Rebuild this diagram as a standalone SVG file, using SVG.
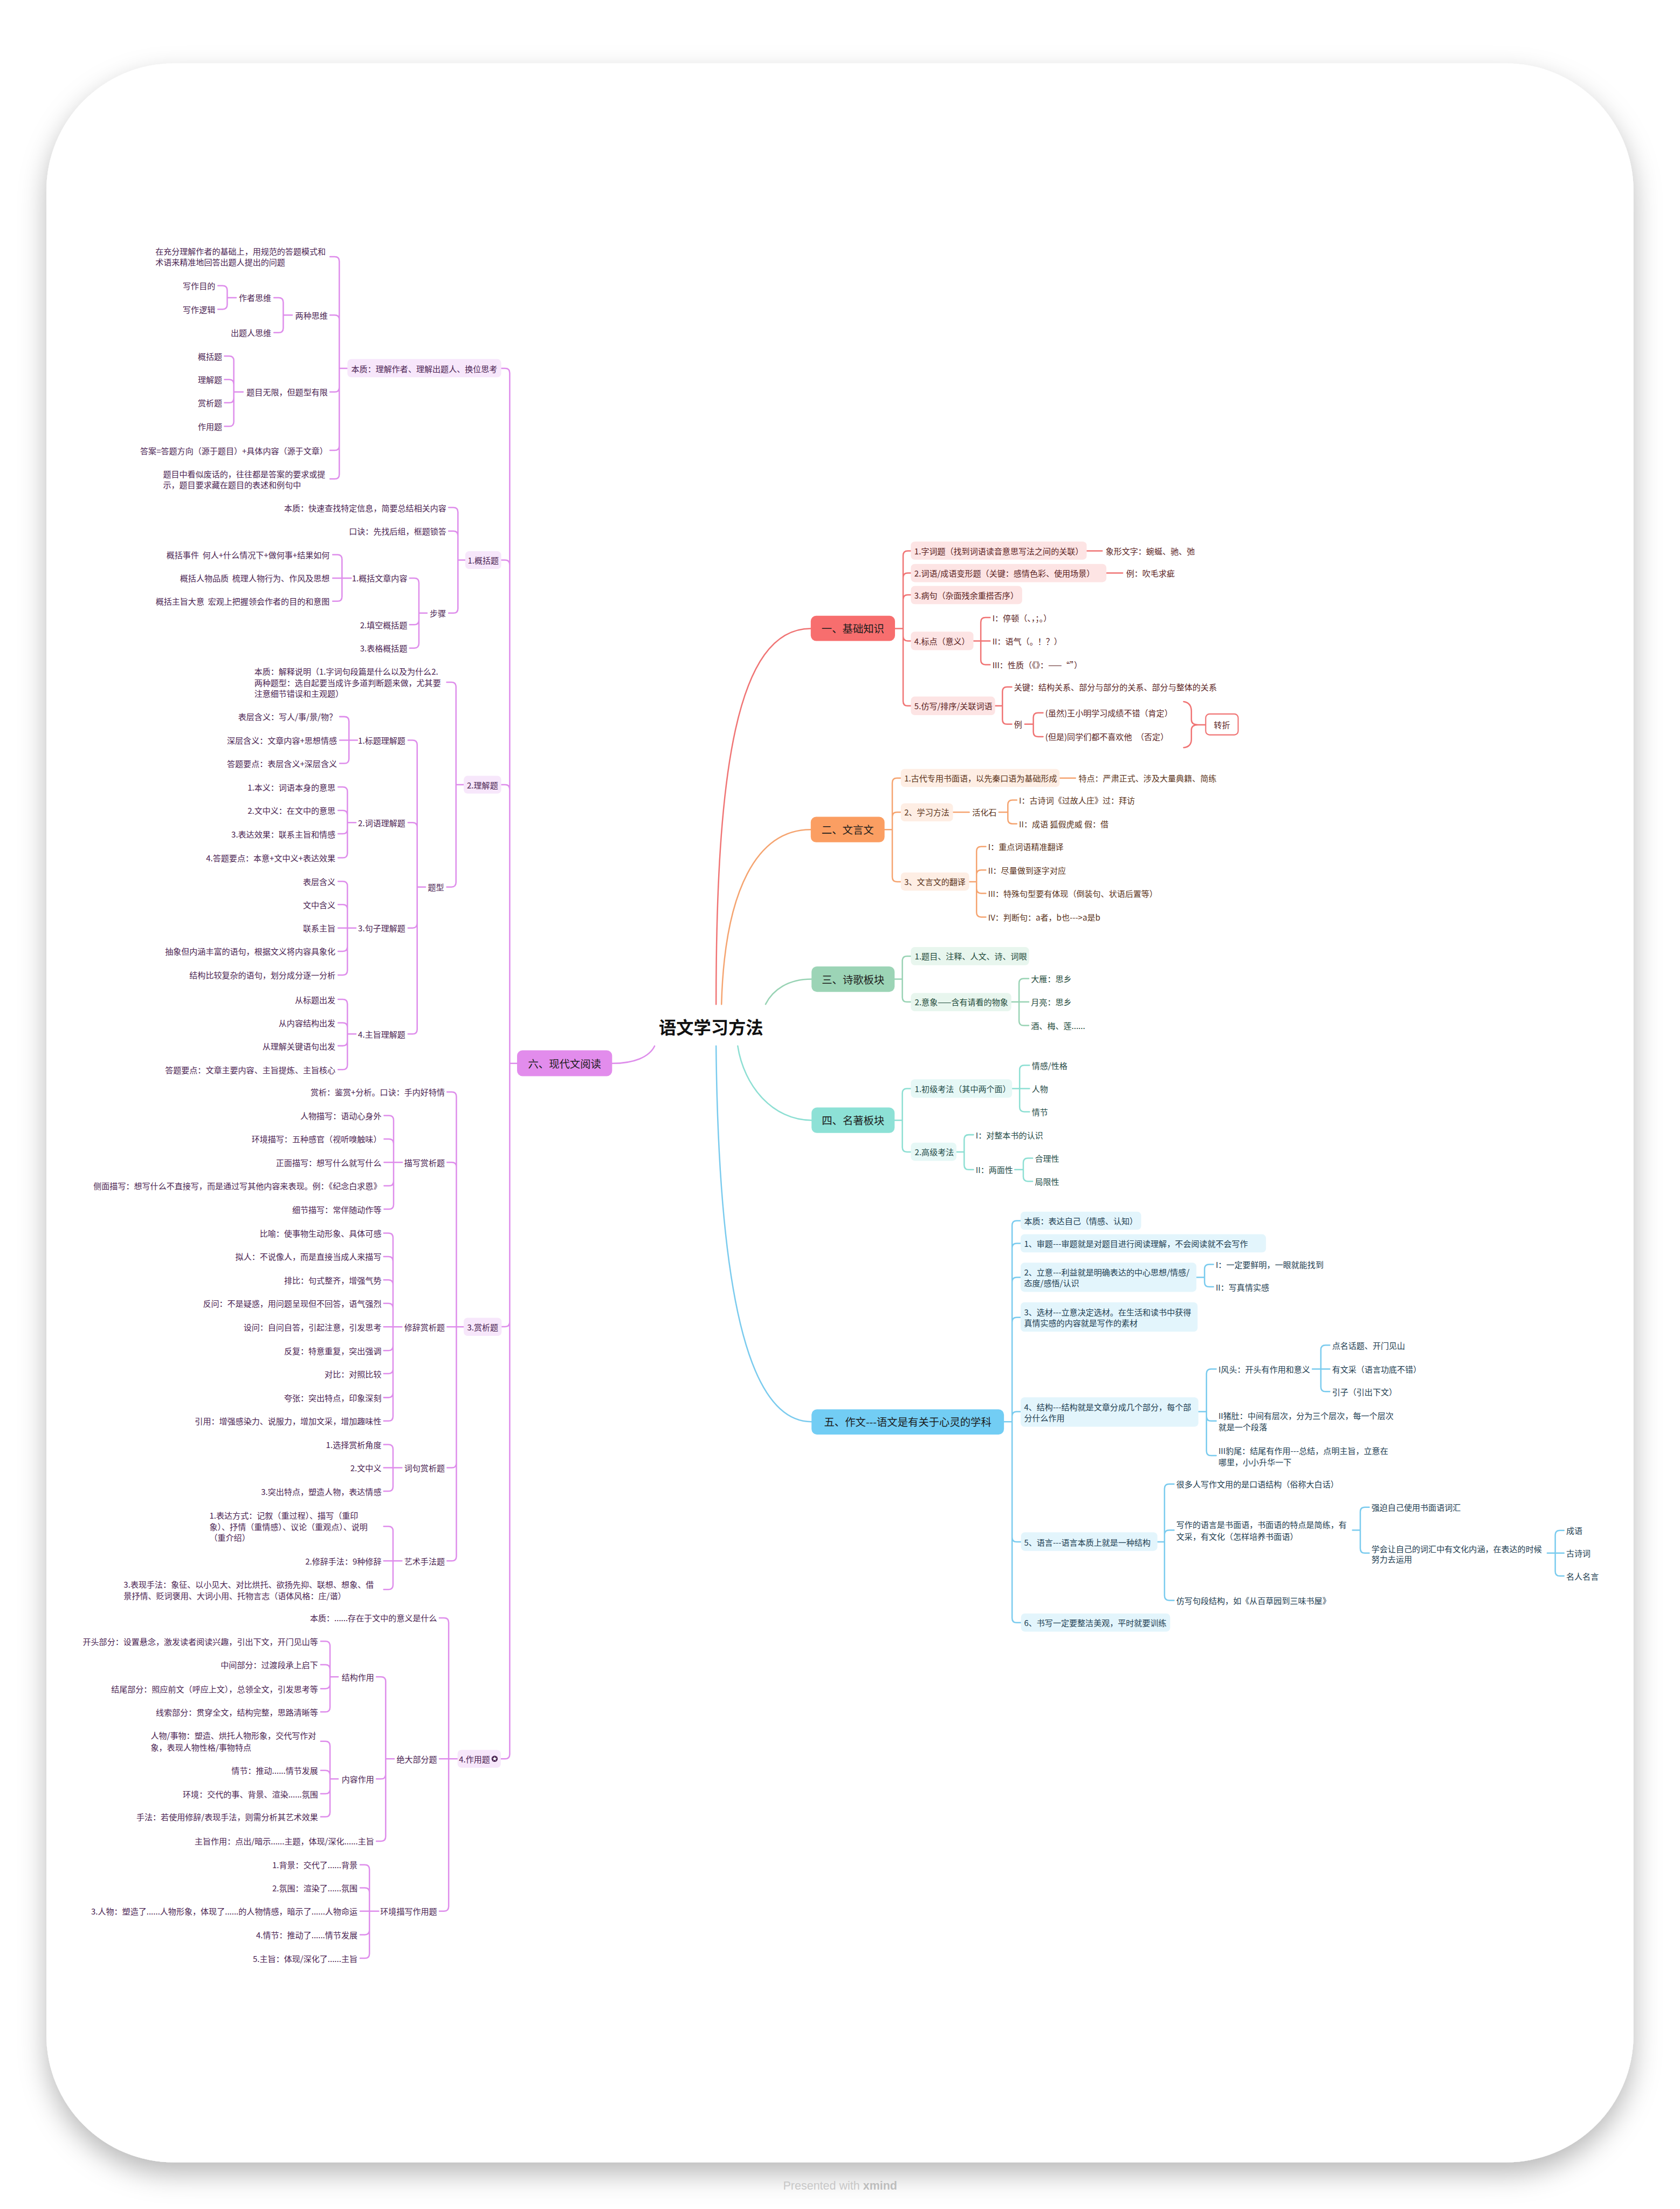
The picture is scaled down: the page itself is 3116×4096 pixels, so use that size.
<svg xmlns="http://www.w3.org/2000/svg" width="3116" height="4096" viewBox="0 0 3116 4096">
<defs>
<style>
text{font-family:"Noto Sans CJK SC","Noto Sans",sans-serif;font-size:21px;dominant-baseline:central}
.e{text-anchor:end}.m{text-anchor:middle}
.c6{fill:#4A2352}.c1{fill:#5A2222}.c2{fill:#5A3219}.c3{fill:#1F4A3A}.c4{fill:#1F4A46}.c5{fill:#1C3C50}
.br{font-size:27px;fill:#1C1C1C;text-anchor:middle}
.ln{fill:none;stroke-width:3.5;stroke-linecap:round;stroke-linejoin:round}
.l6{stroke:#DE8DEB}.l1{stroke:#F07474}.l2{stroke:#F5A470}.l3{stroke:#98D3B4}.l4{stroke:#8DDFD3}.l5{stroke:#7ACBEE}
.f6{fill:#F7E7FB}.f1{fill:#FDE4E4}.f2{fill:#FEEEE4}.f3{fill:#E8F6EE}.f4{fill:#E6F8F6}.f5{fill:#E3F5FC}
</style>
<filter id="sh" x="-10%" y="-10%" width="120%" height="120%">
<feDropShadow dx="0" dy="30" stdDeviation="35" flood-color="#000" flood-opacity="0.28"/>
</filter>
</defs>
<rect width="3116" height="4096" fill="#fff"/>
<g transform="scale(0.71676)">
<rect x="120" y="164" width="4107" height="5430" rx="330" fill="#fff" filter="url(#sh)"/>
<text x="2174" y="5655" class="m" style="font-family:'Liberation Sans',sans-serif;font-size:30px;fill:#C8C8C8">Presented with <tspan style="font-weight:bold;fill:#BDBDBD">xmind</tspan></text>

<g id="connectors">
<!-- main curves -->
<path class="ln l1" stroke-width="4" d="M1853 2598C1853 2000 1905 1626 2098 1626"/>
<path class="ln l2" stroke-width="4" d="M1867 2598C1875 2300 1960 2146 2098 2146"/>
<path class="ln l3" stroke-width="4" d="M1981 2598C2000 2560 2040 2533 2100 2533"/>
<path class="ln l4" stroke-width="4" d="M1909 2706C1925 2810 2000 2898 2100 2898"/>
<path class="ln l5" stroke-width="4" d="M1853 2706C1860 3400 1950 3678 2100 3678"/>
<path class="ln l6" stroke-width="4" d="M1694 2706C1680 2735 1640 2751 1584 2751"/>
<!-- 六 -->
<path class="ln l6" d="M1338 2751H1319V965Q1319 953 1307 953H1297M1338 2751H1319V1461Q1319 1449 1307 1449H1297M1338 2751H1319V2042Q1319 2030 1307 2030H1297M1338 2751H1319V3420Q1319 3432 1307 3432H1298M1338 2751H1319V4538Q1319 4550 1307 4550H1296"/>
<path class="ln l6" d="M899 953H878V676Q878 664 866 664H854M899 953H878V827Q878 815 866 815H854M899 953H878V1002Q878 1014 866 1014H854M899 953H878V1153Q878 1165 866 1165H854M899 953H878V1227Q878 1239 866 1239H854"/>
<path class="ln l6" d="M756 815H733V782Q733 770 721 770H709M756 815H733V848.5Q733 860.5 721 860.5H709"/>
<path class="ln l6" d="M611 770H588V751Q588 739 576 739H564M611 770H588V788Q588 800 576 800H564"/>
<path class="ln l6" d="M629 1014H605V933Q605 921 593 921H581M629 1014H605V994Q605 982 593 982H581M629 1014H605V1030Q605 1042 593 1042H581M629 1014H605V1091Q605 1103 593 1103H581"/>
<path class="ln l6" d="M1204 1449H1185V1325Q1185 1313 1173 1313H1161M1204 1449H1185V1386Q1185 1374 1173 1374H1161M1204 1449H1185V1574Q1185 1586 1173 1586H1161"/>
<path class="ln l6" d="M1105 1586H1084V1507.5Q1084 1495.5 1072 1495.5H1060M1105 1586H1084V1604Q1084 1616 1072 1616H1060M1105 1586H1084V1664.6Q1084 1676.6 1072 1676.6H1060"/>
<path class="ln l6" d="M909 1495.5H885V1447Q885 1435 873 1435H861M909 1495.5H861M909 1495.5H885V1543.4Q885 1555.4 873 1555.4H861"/>
<path class="ln l6" d="M1200 2030H1180V1777Q1180 1765 1168 1765H1156M1200 2030H1180V2282.6Q1180 2294.6 1168 2294.6H1156"/>
<path class="ln l6" d="M1101 2294.6H1079.5V1926.7Q1079.5 1914.7 1067.5 1914.7H1056M1101 2294.6H1079.5V2140Q1079.5 2128 1067.5 2128H1056M1101 2294.6H1079.5V2388.6Q1079.5 2400.6 1067.5 2400.6H1056M1101 2294.6H1079.5V2663Q1079.5 2675 1067.5 2675H1056"/>
<path class="ln l6" d="M925 1914.7H903V1866Q903 1854 891 1854H879M925 1914.7H879M925 1914.7H903V1963Q903 1975 891 1975H879"/>
<path class="ln l6" d="M921 2128H899V2048Q899 2036 887 2036H875M921 2128H899V2108.5Q899 2096.5 887 2096.5H875M921 2128H899V2145Q899 2157 887 2157H875M921 2128H899V2207Q899 2219 887 2219H875"/>
<path class="ln l6" d="M921 2400.6H899V2292Q899 2280 887 2280H875M921 2400.6H899V2352Q899 2340 887 2340H875M921 2400.6H875M921 2400.6H899V2449Q899 2461 887 2461H875M921 2400.6H899V2510.4Q899 2522.4 887 2522.4H875"/>
<path class="ln l6" d="M921 2675H899V2597.4Q899 2585.4 887 2585.4H875M921 2675H899V2658Q899 2646 887 2646H875M921 2675H899V2693.4Q899 2705.4 887 2705.4H875M921 2675H899V2755Q899 2767 887 2767H875"/>
<path class="ln l6" d="M1200 3432.4H1181V2836.7Q1181 2824.7 1169 2824.7H1157M1200 3432.4H1181V3019Q1181 3007 1169 3007H1157M1200 3432.4H1157M1200 3432.4H1181V3785Q1181 3797 1169 3797H1157M1200 3432.4H1181V4026Q1181 4038 1169 4038H1157"/>
<path class="ln l6" d="M1041 3007H1018.5V2898Q1018.5 2886 1006.5 2886H994M1041 3007H1018.5V2958.5Q1018.5 2946.5 1006.5 2946.5H994M1041 3007H994M1041 3007H1018.5V3055.7Q1018.5 3067.7 1006.5 3067.7H994M1041 3007H1018.5V3116Q1018.5 3128 1006.5 3128H994"/>
<path class="ln l6" d="M1040 3432.4H1017V3202Q1017 3190 1005 3190H993M1040 3432.4H1017V3262.7Q1017 3250.7 1005 3250.7H993M1040 3432.4H1017V3323Q1017 3311 1005 3311H993M1040 3432.4H1017V3383.8Q1017 3371.8 1005 3371.8H993M1040 3432.4H993M1040 3432.4H1017V3482Q1017 3494 1005 3494H993M1040 3432.4H1017V3541.6Q1017 3553.6 1005 3553.6H993M1040 3432.4H1017V3603.4Q1017 3615.4 1005 3615.4H993M1040 3432.4H1017V3664Q1017 3676 1005 3676H993"/>
<path class="ln l6" d="M1040 3797H1017V3749Q1017 3737 1005 3737H993M1040 3797H993M1040 3797H1017V3845.7Q1017 3857.7 1005 3857.7H993"/>
<path class="ln l6" d="M1040 4038H1017V3960.6Q1017 3948.6 1005 3948.6H993M1040 4038H993M1040 4038H1017V4100Q1017 4112 1005 4112H993"/>
<path class="ln l6" d="M1184 4550H1161V4197.5Q1161 4185.5 1149 4185.5H1137M1184 4550H1137M1184 4550H1161V4932Q1161 4944 1149 4944H1137"/>
<path class="ln l6" d="M1020 4550H998V4350Q998 4338 986 4338H974M1020 4550H998V4590Q998 4602 986 4602H974M1020 4550H998V4751Q998 4763 986 4763H974"/>
<path class="ln l6" d="M875 4338H854V4258Q854 4246 842 4246H830M875 4338H854V4318.7Q854 4306.7 842 4306.7H830M875 4338H854V4356.5Q854 4368.5 842 4368.5H830M875 4338H854V4416.7Q854 4428.7 842 4428.7H830"/>
<path class="ln l6" d="M875 4602H854V4516.7Q854 4504.7 842 4504.7H830M875 4602H854V4592Q854 4580 842 4580H830M875 4602H854V4628.4Q854 4640.4 842 4640.4H830M875 4602H854V4688Q854 4700 842 4700H830"/>
<path class="ln l6" d="M980 4944H956V4836Q956 4824 944 4824H932M980 4944H956V4895.8Q956 4883.8 944 4883.8H932M980 4944H932M980 4944H956V4993Q956 5005 944 5005H932M980 4944H956V5054Q956 5066 944 5066H932"/>
<!-- 一 -->
<path class="ln l1" d="M2316 1626H2337V1437Q2337 1425 2349 1425H2357M2316 1626H2337V1494.5Q2337 1482.5 2349 1482.5H2357M2316 1626H2337V1551Q2337 1539 2349 1539H2357M2316 1626H2337V1646Q2337 1658 2349 1658H2357M2316 1626H2337V1814Q2337 1826 2349 1826H2357"/>
<path class="ln l1" d="M2812 1425H2852M2863 1482.5H2905"/>
<path class="ln l1" d="M2519 1658H2538V1609.6Q2538 1597.6 2550 1597.6H2562M2519 1658H2562M2519 1658H2538V1707.5Q2538 1719.5 2550 1719.5H2562"/>
<path class="ln l1" d="M2575 1826H2594V1789Q2594 1777 2606 1777H2618M2575 1826H2594V1861.5Q2594 1873.5 2606 1873.5H2618"/>
<path class="ln l1" d="M2652 1873.5H2674V1856Q2674 1844 2686 1844H2699M2652 1873.5H2674V1893.7Q2674 1905.7 2686 1905.7H2699"/>
<path class="ln l1" d="M3063 1815Q3083 1818 3083 1840V1862Q3083 1875 3100 1875Q3083 1875 3083 1888V1912Q3083 1932 3063 1934M3100 1875H3120"/>
<!-- 二 -->
<path class="ln l2" d="M2289 2146H2309V2025Q2309 2013 2321 2013H2331M2289 2146H2309V2113Q2309 2101 2321 2101H2331M2289 2146H2309V2269Q2309 2281 2321 2281H2331"/>
<path class="ln l2" d="M2742 2013H2783M2466 2101H2508"/>
<path class="ln l2" d="M2585 2101H2608V2081.7Q2608 2069.7 2620 2069.7H2631M2585 2101H2608V2119Q2608 2131 2620 2131H2631"/>
<path class="ln l2" d="M2508 2281H2527V2202Q2527 2190 2539 2190H2551M2508 2281H2527V2262.6Q2527 2250.6 2539 2250.6H2551M2508 2281H2527V2299Q2527 2311 2539 2311H2551M2508 2281H2527V2360.4Q2527 2372.4 2539 2372.4H2551"/>
<!-- 三 -->
<path class="ln l3" d="M2315 2533H2335V2485.6Q2335 2473.6 2347 2473.6H2357M2315 2533H2335V2580Q2335 2592 2347 2592H2357"/>
<path class="ln l3" d="M2617 2592H2637V2543.6Q2637 2531.6 2649 2531.6H2662M2617 2592H2662M2617 2592H2637V2641Q2637 2653 2649 2653H2662"/>
<!-- 四 -->
<path class="ln l4" d="M2315 2898H2335V2828Q2335 2816 2347 2816H2357M2315 2898H2335V2968Q2335 2980 2347 2980H2357"/>
<path class="ln l4" d="M2619 2816H2638.5V2767.7Q2638.5 2755.7 2650.5 2755.7H2664M2619 2816H2664M2619 2816H2638.5V2864Q2638.5 2876 2650.5 2876H2664"/>
<path class="ln l4" d="M2475 2980H2495V2947.6Q2495 2935.6 2507 2935.6H2519M2475 2980H2495V3013.8Q2495 3025.8 2507 3025.8H2519"/>
<path class="ln l4" d="M2626 3025.8H2648V3008Q2648 2996 2660 2996H2672M2626 3025.8H2648V3044Q2648 3056 2660 3056H2672"/>
<!-- 五 -->
<path class="ln l5" d="M2598 3678H2619V3170Q2619 3158 2631 3158H2641M2598 3678H2619V3228.4Q2619 3216.4 2631 3216.4H2641M2598 3678H2619V3316.4Q2619 3304.4 2631 3304.4H2641M2598 3678H2619V3420Q2619 3408 2631 3408H2641M2598 3678H2619V3664Q2619 3652 2631 3652H2641M2598 3678H2619V3976.8Q2619 3988.8 2631 3988.8H2641M2598 3678H2619V4185.7Q2619 4197.7 2631 4197.7H2641"/>
<path class="ln l5" d="M3096 3304.4H3117V3283Q3117 3271 3129 3271H3140M3096 3304.4H3117V3317Q3117 3329 3129 3329H3140"/>
<path class="ln l5" d="M3101 3652H3122V3553.7Q3122 3541.7 3134 3541.7H3147M3101 3652H3122V3664Q3122 3676 3134 3676H3147M3101 3652H3122V3753.7Q3122 3765.7 3134 3765.7H3147"/>
<path class="ln l5" d="M3396 3541.7H3418V3492Q3418 3480 3430 3480H3441M3396 3541.7H3441M3396 3541.7H3418V3588Q3418 3600 3430 3600H3441"/>
<path class="ln l5" d="M2995 3988.8H3013.4V3851Q3013.4 3839 3025.4 3839H3038M2995 3988.8H3013.4V3970.4Q3013.4 3958.4 3025.4 3958.4H3038M2995 3988.8H3013.4V4128Q3013.4 4140 3025.4 4140H3038"/>
<path class="ln l5" d="M3500 3958.4H3520V3911Q3520 3899 3532 3899H3543M3500 3958.4H3520V4005.8Q3520 4017.8 3532 4017.8H3543"/>
<path class="ln l5" d="M4004 4017.8H4024.5V3971Q4024.5 3959 4036.5 3959H4047M4004 4017.8H4047M4004 4017.8H4024.5V4065Q4024.5 4077 4036.5 4077H4047"/>
</g>

<g id="title"><text x="1840" y="2655" class="m" style="font-size:45px;font-weight:bold;fill:#111">语文学习方法</text></g>

<!-- Branch nodes -->
<g id="b1"><rect x="2098" y="1593" width="218" height="65" rx="14" fill="#F76E6E"/><text x="2207" y="1626" class="br">一、基础知识</text></g>
<g id="b2"><rect x="2098" y="2113" width="191" height="66" rx="14" fill="#FB9E62"/><text x="2193.5" y="2146" class="br">二、文言文</text></g>
<g id="b3"><rect x="2100" y="2500" width="215" height="66" rx="14" fill="#9CD4B6"/><text x="2207.5" y="2533" class="br">三、诗歌板块</text></g>
<g id="b4"><rect x="2100" y="2865" width="215" height="66" rx="14" fill="#8DE1D6"/><text x="2207.5" y="2898" class="br">四、名著板块</text></g>
<g id="b5"><rect x="2100" y="3646" width="498" height="65" rx="14" fill="#72CDF4"/><text x="2349" y="3678" class="br">五、作文---语文是有关于心灵的学科</text></g>
<g id="b6"><rect x="1338" y="2717" width="246" height="67" rx="14" fill="#E28CEC"/><text x="1461" y="2751" class="br">六、现代文阅读</text></g>

<!-- 六 nodes -->
<g id="n6a"><rect x="899" y="929" width="398" height="47" rx="10" class="f6"/><text x="1098" y="953" class="m c6">本质：理解作者、理解出题人、换位思考</text></g>
<g id="n6a1"><text x="402" y="650" class="c6">在充分理解作者的基础上，用规范的答题模式和</text><text x="402" y="678" class="c6">术语来精准地回答出题人提出的问题</text></g>
<g id="n6a2"><text x="848" y="815" class="e c6">两种思维</text></g>
<g id="n6a21"><text x="702" y="770" class="e c6">作者思维</text></g>
<g id="n6a211"><text x="557" y="739" class="e c6">写作目的</text></g>
<g id="n6a212"><text x="557" y="800" class="e c6">写作逻辑</text></g>
<g id="n6a22"><text x="702" y="860.5" class="e c6">出题人思维</text></g>
<g id="n6a3"><text x="848" y="1014" class="e c6">题目无限，但题型有限</text></g>
<g id="n6a31"><text x="575" y="921" class="e c6">概括题</text></g>
<g id="n6a32"><text x="575" y="982" class="e c6">理解题</text></g>
<g id="n6a33"><text x="575" y="1042" class="e c6">赏析题</text></g>
<g id="n6a34"><text x="575" y="1103" class="e c6">作用题</text></g>
<g id="n6a4"><text x="848" y="1165" class="e c6">答案=答题方向（源于题目）+具体内容（源于文章）</text></g>
<g id="n6a5"><text x="422" y="1226" class="c6">题目中看似废话的，往往都是答案的要求或提</text><text x="422" y="1254" class="c6">示，题目要求藏在题目的表述和例句中</text></g>

<g id="n6b"><rect x="1204" y="1426" width="93" height="46" rx="10" class="f6"/><text x="1250.5" y="1449" class="m c6">1.概括题</text></g>
<g id="n6b1"><text x="1155" y="1313" class="e c6">本质：快速查找特定信息，简要总结相关内容</text></g>
<g id="n6b2"><text x="1155" y="1374" class="e c6">口诀：先找后组，框题锁答</text></g>
<g id="n6b3"><text x="1154" y="1586" class="e c6">步骤</text></g>
<g id="n6b31"><text x="1054" y="1495.5" class="e c6">1.概括文章内容</text></g>
<g id="n6b311"><text x="853" y="1435" class="e c6">概括事件&#160;&#160;何人+什么情况下+做何事+结果如何</text></g>
<g id="n6b312"><text x="853" y="1495.5" class="e c6">概括人物品质&#160;&#160;梳理人物行为、作风及思想</text></g>
<g id="n6b313"><text x="853" y="1555.4" class="e c6">概括主旨大意&#160;&#160;宏观上把握领会作者的目的和意图</text></g>
<g id="n6b32"><text x="1054" y="1616" class="e c6">2.填空概括题</text></g>
<g id="n6b33"><text x="1054" y="1676.6" class="e c6">3.表格概括题</text></g>

<g id="n6c"><rect x="1200" y="2007" width="97" height="46" rx="10" class="f6"/><text x="1248.5" y="2030" class="m c6">2.理解题</text></g>
<g id="n6c1"><text x="658" y="1736" class="c6">本质：解释说明（1.字词句段篇是什么以及为什么2.</text><text x="658" y="1765" class="c6">两种题型：选自起要当成许多道判断题来做，尤其要</text><text x="658" y="1794" class="c6">注意细节错误和主观题）</text></g>
<g id="n6c2"><text x="1149" y="2294.6" class="e c6">题型</text></g>
<g id="n6c21"><text x="1049" y="1914.7" class="e c6">1.标题理解题</text></g>
<g id="n6c211"><text x="872" y="1854" class="e c6">表层含义：写人/事/景/物？</text></g>
<g id="n6c212"><text x="872" y="1914.7" class="e c6">深层含义：文章内容+思想情感</text></g>
<g id="n6c213"><text x="872" y="1975" class="e c6">答题要点：表层含义+深层含义</text></g>
<g id="n6c22"><text x="1049" y="2128" class="e c6">2.词语理解题</text></g>
<g id="n6c221"><text x="868" y="2036" class="e c6">1.本义：词语本身的意思</text></g>
<g id="n6c222"><text x="868" y="2096.5" class="e c6">2.文中义：在文中的意思</text></g>
<g id="n6c223"><text x="868" y="2157" class="e c6">3.表达效果：联系主旨和情感</text></g>
<g id="n6c224"><text x="868" y="2219" class="e c6">4.答题要点：本意+文中义+表达效果</text></g>
<g id="n6c23"><text x="1049" y="2400.6" class="e c6">3.句子理解题</text></g>
<g id="n6c231"><text x="868" y="2280" class="e c6">表层含义</text></g>
<g id="n6c232"><text x="868" y="2340" class="e c6">文中含义</text></g>
<g id="n6c233"><text x="868" y="2400.6" class="e c6">联系主旨</text></g>
<g id="n6c234"><text x="868" y="2461" class="e c6">抽象但内涵丰富的语句，根据文义将内容具象化</text></g>
<g id="n6c235"><text x="868" y="2522.4" class="e c6">结构比较复杂的语句，划分成分逐一分析</text></g>
<g id="n6c24"><text x="1049" y="2675" class="e c6">4.主旨理解题</text></g>
<g id="n6c241"><text x="868" y="2585.4" class="e c6">从标题出发</text></g>
<g id="n6c242"><text x="868" y="2646" class="e c6">从内容结构出发</text></g>
<g id="n6c243"><text x="868" y="2705.4" class="e c6">从理解关键语句出发</text></g>
<g id="n6c244"><text x="868" y="2767" class="e c6">答题要点：文章主要内容、主旨提炼、主旨核心</text></g>

<g id="n6d"><rect x="1200" y="3409" width="98" height="47" rx="10" class="f6"/><text x="1249" y="3432.4" class="m c6">3.赏析题</text></g>
<g id="n6d1"><text x="1151" y="2824.7" class="e c6">赏析：鉴赏+分析。口诀：手内好特情</text></g>
<g id="n6d2"><text x="1151" y="3007" class="e c6">描写赏析题</text></g>
<g id="n6d21"><text x="987" y="2886" class="e c6">人物描写：语动心身外</text></g>
<g id="n6d22"><text x="987" y="2946.5" class="e c6">环境描写：五种感官（视听嗅触味）</text></g>
<g id="n6d23"><text x="987" y="3007" class="e c6">正面描写：想写什么就写什么</text></g>
<g id="n6d24"><text x="987" y="3067.7" class="e c6">侧面描写：想写什么不直接写，而是通过写其他内容来表现。例：《纪念白求恩》</text></g>
<g id="n6d25"><text x="987" y="3128" class="e c6">细节描写：常伴随动作等</text></g>
<g id="n6d3"><text x="1151" y="3432.4" class="e c6">修辞赏析题</text></g>
<g id="n6d31"><text x="987" y="3190" class="e c6">比喻：使事物生动形象、具体可感</text></g>
<g id="n6d32"><text x="987" y="3250.7" class="e c6">拟人：不说像人，而是直接当成人来描写</text></g>
<g id="n6d33"><text x="987" y="3311" class="e c6">排比：句式整齐，增强气势</text></g>
<g id="n6d34"><text x="987" y="3371.8" class="e c6">反问：不是疑惑，用问题呈现但不回答，语气强烈</text></g>
<g id="n6d35"><text x="987" y="3432.4" class="e c6">设问：自问自答，引起注意，引发思考</text></g>
<g id="n6d36"><text x="987" y="3494" class="e c6">反复：特意重复，突出强调</text></g>
<g id="n6d37"><text x="987" y="3553.6" class="e c6">对比：对照比较</text></g>
<g id="n6d38"><text x="987" y="3615.4" class="e c6">夸张：突出特点，印象深刻</text></g>
<g id="n6d39"><text x="987" y="3676" class="e c6">引用：增强感染力、说服力，增加文采，增加趣味性</text></g>
<g id="n6d4"><text x="1151" y="3797" class="e c6">词句赏析题</text></g>
<g id="n6d41"><text x="987" y="3737" class="e c6">1.选择赏析角度</text></g>
<g id="n6d42"><text x="987" y="3797" class="e c6">2.文中义</text></g>
<g id="n6d43"><text x="987" y="3857.7" class="e c6">3.突出特点，塑造人物，表达情感</text></g>
<g id="n6d5"><text x="1151" y="4038" class="e c6">艺术手法题</text></g>
<g id="n6d51"><text x="542" y="3920" class="c6">1.表达方式：记叙（重过程）、描写（重印</text><text x="542" y="3948.6" class="c6">象）、抒情（重情感）、议论（重观点）、说明</text><text x="542" y="3976.5" class="c6">（重介绍）</text></g>
<g id="n6d52"><text x="987" y="4038" class="e c6">2.修辞手法：9种修辞</text></g>
<g id="n6d53"><text x="320" y="4099" class="c6">3.表现手法：象征、以小见大、对比烘托、欲扬先抑、联想、想象、借</text><text x="320" y="4127" class="c6">景抒情、贬词褒用、大词小用、托物言志（语体风格：庄/谐）</text></g>

<g id="n6e"><rect x="1184" y="4527" width="112" height="46" rx="10" class="f6"/><text x="1268" y="4550" class="e c6">4.作用题</text><circle cx="1280" cy="4550" r="8" fill="#4A2352"/><polygon points="1280,4544 1281.6,4548 1285.7,4548.2 1282.5,4550.8 1283.6,4554.8 1280,4552.5 1276.4,4554.8 1277.5,4550.8 1274.3,4548.2 1278.4,4548" fill="#fff"/></g>
<g id="n6e1"><text x="1131" y="4185.5" class="e c6">本质：......存在于文中的意义是什么</text></g>
<g id="n6e2"><text x="1131" y="4550" class="e c6">绝大部分题</text></g>
<g id="n6e21"><text x="968" y="4338" class="e c6">结构作用</text></g>
<g id="n6e211"><text x="823" y="4246" class="e c6">开头部分：设置悬念，激发读者阅读兴趣，引出下文，开门见山等</text></g>
<g id="n6e212"><text x="823" y="4306.7" class="e c6">中间部分：过渡段承上启下</text></g>
<g id="n6e213"><text x="823" y="4368.5" class="e c6">结尾部分：照应前文（呼应上文），总领全文，引发思考等</text></g>
<g id="n6e214"><text x="823" y="4428.7" class="e c6">线索部分：贯穿全文，结构完整，思路清晰等</text></g>
<g id="n6e22"><text x="968" y="4602" class="e c6">内容作用</text></g>
<g id="n6e221"><text x="390" y="4489" class="c6">人物/事物：塑造、烘托人物形象，交代写作对</text><text x="390" y="4519" class="c6">象，表现人物性格/事物特点</text></g>
<g id="n6e222"><text x="823" y="4580" class="e c6">情节：推动......情节发展</text></g>
<g id="n6e223"><text x="823" y="4640.4" class="e c6">环境：交代的事、背景、渲染......氛围</text></g>
<g id="n6e224"><text x="823" y="4700" class="e c6">手法：若使用修辞/表现手法，则需分析其艺术效果</text></g>
<g id="n6e23"><text x="968" y="4763" class="e c6">主旨作用：点出/暗示......主题，体现/深化......主旨</text></g>
<g id="n6e3"><text x="1131" y="4944" class="e c6">环境描写作用题</text></g>
<g id="n6e31"><text x="925" y="4824" class="e c6">1.背景：交代了......背景</text></g>
<g id="n6e32"><text x="925" y="4883.8" class="e c6">2.氛围：渲染了......氛围</text></g>
<g id="n6e33"><text x="925" y="4944" class="e c6">3.人物：塑造了......人物形象，体现了......的人物情感，暗示了......人物命运</text></g>
<g id="n6e34"><text x="925" y="5005" class="e c6">4.情节：推动了......情节发展</text></g>
<g id="n6e35"><text x="925" y="5066" class="e c6">5.主旨：体现/深化了......主旨</text></g>

<!-- 一 nodes -->
<g id="n1a"><rect x="2357" y="1401" width="455" height="47" rx="10" class="f1"/><text x="2366" y="1425" class="c1">1.字词题（找到词语读音意思写法之间的关联）</text></g>
<g id="n1a1"><text x="2861" y="1425" class="c1">象形文字：蜿蜒、驰、弛</text></g>
<g id="n1b"><rect x="2357" y="1459" width="506" height="47" rx="10" class="f1"/><text x="2366" y="1482.5" class="c1">2.词语/成语变形题（关键：感情色彩、使用场景）</text></g>
<g id="n1b1"><text x="2914" y="1482.5" class="c1">例：吹毛求疵</text></g>
<g id="n1c"><rect x="2357" y="1516" width="288" height="47" rx="10" class="f1"/><text x="2366" y="1539" class="c1">3.病句（杂面残余重搭否序）</text></g>
<g id="n1d"><rect x="2357" y="1634" width="162" height="48" rx="10" class="f1"/><text x="2366" y="1658" class="c1">4.标点（意义）</text></g>
<g id="n1d1"><text x="2568" y="1597.6" class="c1">I：停顿（、，；。）</text></g>
<g id="n1d2"><text x="2568" y="1658" class="c1">II：语气（。！？）</text></g>
<g id="n1d3"><text x="2568" y="1719.5" class="c1">III：性质（《》：——“”）</text></g>
<g id="n1e"><rect x="2357" y="1802" width="218" height="48" rx="10" class="f1"/><text x="2366" y="1826" class="c1">5.仿写/排序/关联词语</text></g>
<g id="n1e1"><text x="2624" y="1777" class="c1">关键：结构关系、部分与部分的关系、部分与整体的关系</text></g>
<g id="n1e2"><text x="2624" y="1873.5" class="c1">例</text></g>
<g id="n1e21"><text x="2705" y="1844" class="c1">(虽然)王小明学习成绩不错（肯定）</text></g>
<g id="n1e22"><text x="2705" y="1905.7" class="c1">(但是)同学们都不喜欢他&#12288;（否定）</text></g>
<g id="n1e3"><rect x="3120" y="1847" width="84" height="54" rx="10" fill="#fff" stroke="#F07474" stroke-width="3"/><text x="3162" y="1874" class="m c1">转折</text></g>

<!-- 二 nodes -->
<g id="n2a"><rect x="2331" y="1989" width="411" height="47" rx="10" class="f2"/><text x="2340" y="2013" class="c2">1.古代专用书面语，以先秦口语为基础形成</text></g>
<g id="n2a1"><text x="2791" y="2013" class="c2">特点：严肃正式、涉及大量典籍、简练</text></g>
<g id="n2b"><rect x="2331" y="2078" width="135" height="47" rx="10" class="f2"/><text x="2340" y="2101" class="c2">2、学习方法</text></g>
<g id="n2b1"><text x="2516" y="2101" class="c2">活化石</text></g>
<g id="n2b11"><text x="2637" y="2069.7" class="c2">I：古诗词《过故人庄》过：拜访</text></g>
<g id="n2b12"><text x="2637" y="2131" class="c2">II：成语 狐假虎威 假：借</text></g>
<g id="n2c"><rect x="2331" y="2257" width="177" height="47" rx="10" class="f2"/><text x="2340" y="2281" class="c2">3、文言文的翻译</text></g>
<g id="n2c1"><text x="2557" y="2190" class="c2">I：重点词语精准翻译</text></g>
<g id="n2c2"><text x="2557" y="2250.6" class="c2">II：尽量做到逐字对应</text></g>
<g id="n2c3"><text x="2557" y="2311" class="c2">III：特殊句型要有体现（倒装句、状语后置等）</text></g>
<g id="n2c4"><text x="2557" y="2372.4" class="c2">IV：判断句：a者，b也---&gt;a是b</text></g>

<!-- 三 nodes -->
<g id="n3a"><rect x="2357" y="2450" width="306" height="47" rx="10" class="f3"/><text x="2367" y="2473.6" class="c3">1.题目、注释、人文、诗、词眼</text></g>
<g id="n3b"><rect x="2357" y="2569" width="260" height="47" rx="10" class="f3"/><text x="2367" y="2592" class="c3">2.意象——含有请看的物象</text></g>
<g id="n3b1"><text x="2668" y="2531.6" class="c3">大雁：思乡</text></g>
<g id="n3b2"><text x="2668" y="2592" class="c3">月亮：思乡</text></g>
<g id="n3b3"><text x="2668" y="2653" class="c3">酒、梅、莲......</text></g>

<!-- 四 nodes -->
<g id="n4a"><rect x="2357" y="2792" width="262" height="48" rx="10" class="f4"/><text x="2367" y="2816" class="c4">1.初级考法（其中两个面）</text></g>
<g id="n4a1"><text x="2670" y="2755.7" class="c4">情感/性格</text></g>
<g id="n4a2"><text x="2670" y="2816" class="c4">人物</text></g>
<g id="n4a3"><text x="2670" y="2876" class="c4">情节</text></g>
<g id="n4b"><rect x="2357" y="2956" width="118" height="47" rx="10" class="f4"/><text x="2367" y="2980" class="c4">2.高级考法</text></g>
<g id="n4b1"><text x="2525" y="2935.6" class="c4">I：对整本书的认识</text></g>
<g id="n4b2"><text x="2525" y="3025.8" class="c4">II：两面性</text></g>
<g id="n4b21"><text x="2678" y="2996" class="c4">合理性</text></g>
<g id="n4b22"><text x="2678" y="3056" class="c4">局限性</text></g>

<!-- 五 nodes -->
<g id="n5a"><rect x="2641" y="3134.5" width="312" height="47" rx="10" class="f5"/><text x="2650" y="3158" class="c5">本质：表达自己（情感、认知）</text></g>
<g id="n5b"><rect x="2641" y="3193" width="635" height="47" rx="10" class="f5"/><text x="2650" y="3216.4" class="c5">1、审题---审题就是对题目进行阅读理解，不会阅读就不会写作</text></g>
<g id="n5c"><rect x="2641" y="3266.6" width="455" height="75.4" rx="10" class="f5"/><text x="2650" y="3290" class="c5">2、立意---利益就是明确表达的中心思想/情感/</text><text x="2650" y="3319" class="c5">态度/感悟/认识</text></g>
<g id="n5c1"><text x="3146" y="3271" class="c5">I：一定要鲜明，一眼就能找到</text></g>
<g id="n5c2"><text x="3146" y="3329" class="c5">II：写真情实感</text></g>
<g id="n5d"><rect x="2641" y="3369" width="458" height="76" rx="10" class="f5"/><text x="2650" y="3393.6" class="c5">3、选材---立意决定选材。在生活和读书中获得</text><text x="2650" y="3422.3" class="c5">真情实感的内容就是写作的素材</text></g>
<g id="n5e"><rect x="2641" y="3615" width="460" height="76" rx="10" class="f5"/><text x="2650" y="3639.3" class="c5">4、结构---结构就是文章分成几个部分，每个部</text><text x="2650" y="3667.2" class="c5">分什么作用</text></g>
<g id="n5e1"><text x="3153" y="3541.7" class="c5">I风头：开头有作用和意义</text></g>
<g id="n5e11"><text x="3447" y="3480" class="c5">点名话题、开门见山</text></g>
<g id="n5e12"><text x="3447" y="3541.7" class="c5">有文采（语言功底不错）</text></g>
<g id="n5e13"><text x="3447" y="3600" class="c5">引子（引出下文）</text></g>
<g id="n5e2"><text x="3153" y="3661.7" class="c5">II猪肚：中间有层次，分为三个层次，每一个层次</text><text x="3153" y="3690.7" class="c5">就是一个段落</text></g>
<g id="n5e3"><text x="3153" y="3751.7" class="c5">III豹尾：结尾有作用---总结，点明主旨，立意在</text><text x="3153" y="3781" class="c5">哪里，小小升华一下</text></g>
<g id="n5f"><rect x="2642" y="3964" width="353" height="48" rx="10" class="f5"/><text x="2650" y="3988.8" class="c5">5、语言---语言本质上就是一种结构</text></g>
<g id="n5f1"><text x="3044" y="3839" class="c5">很多人写作文用的是口语结构（俗称大白话）</text></g>
<g id="n5f2"><text x="3044" y="3944" class="c5">写作的语言是书面语，书面语的特点是简练，有</text><text x="3044" y="3974" class="c5">文采，有文化（怎样培养书面语）</text></g>
<g id="n5f21"><text x="3549" y="3899" class="c5">强迫自己使用书面语词汇</text></g>
<g id="n5f22"><text x="3549" y="4005.6" class="c5">学会让自己的词汇中有文化内涵，在表达的时候</text><text x="3549" y="4032.7" class="c5">努力去运用</text></g>
<g id="n5f221"><text x="4053" y="3959" class="c5">成语</text></g>
<g id="n5f222"><text x="4053" y="4017.8" class="c5">古诗词</text></g>
<g id="n5f223"><text x="4053" y="4077" class="c5">名人名言</text></g>
<g id="n5f3"><text x="3044" y="4140" class="c5">仿写句段结构，如《从百草园到三味书屋》</text></g>
<g id="n5g"><rect x="2642" y="4174" width="386" height="47" rx="10" class="f5"/><text x="2650" y="4197.7" class="c5">6、书写一定要整洁美观，平时就要训练</text></g>
</g>
</svg>
